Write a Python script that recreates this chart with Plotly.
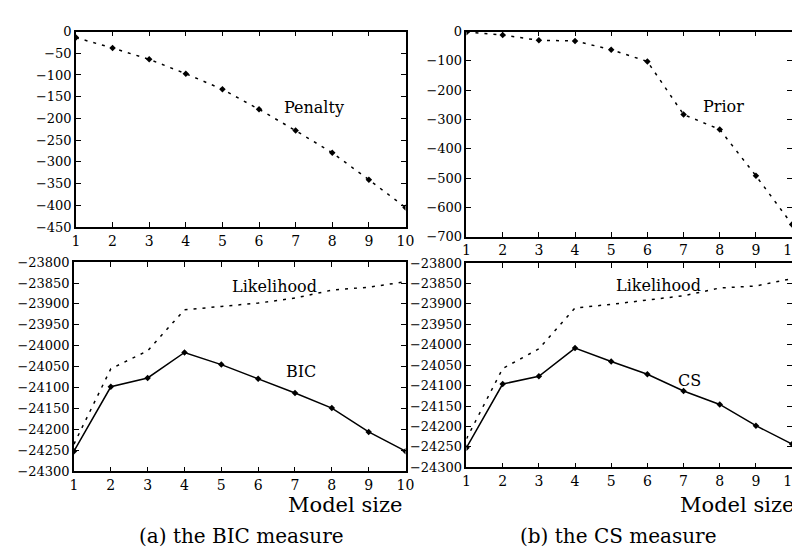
import plotly.graph_objects as go

# ---- data ----
model_size = [1, 2, 3, 4, 5, 6, 7, 8, 9, 10]
penalty = [-14, -38, -64, -97, -133, -179, -228, -279, -341, -405]
prior = [-2, -12, -30, -32, -62, -102, -283, -334, -492, -658]
likelihood_bic = [-24235, -24055, -24012, -23914, -23906, -23898, -23886, -23867, -23860, -23847]
bic = [-24252, -24098, -24077, -24016, -24045, -24079, -24113, -24149, -24206, -24252]
likelihood_cs = [-24230, -24058, -24010, -23910, -23901, -23890, -23880, -23861, -23856, -23838]
cs = [-24252, -24096, -24077, -24008, -24041, -24072, -24113, -24146, -24198, -24243]

top_left_ticks = [0, -50, -100, -150, -200, -250, -300, -350, -400, -450]
top_right_ticks = [0, -100, -200, -300, -400, -500, -600, -700]
bottom_ticks = [-23800, -23850, -23900, -23950, -24000, -24050, -24100, -24150, -24200, -24250, -24300]

FONT = "DejaVu Serif"
W, H = 800, 552

fig = go.Figure()

dotted = dict(color="black", width=1.5, dash="3px,6px")
solid = dict(color="black", width=1.5)
mk = dict(symbol="diamond", size=5, color="black")

fig.add_trace(go.Scatter(x=model_size, y=penalty, mode="lines+markers", line=dotted, marker=mk,
                         xaxis="x", yaxis="y", showlegend=False))
fig.add_trace(go.Scatter(x=model_size, y=prior, mode="lines+markers", line=dotted, marker=mk,
                         xaxis="x2", yaxis="y2", showlegend=False))
fig.add_trace(go.Scatter(x=model_size, y=likelihood_bic, mode="lines", line=dotted,
                         xaxis="x3", yaxis="y3", showlegend=False))
fig.add_trace(go.Scatter(x=model_size, y=bic, mode="lines+markers", line=solid, marker=mk,
                         xaxis="x3", yaxis="y3", showlegend=False))
fig.add_trace(go.Scatter(x=model_size, y=likelihood_cs, mode="lines", line=dotted,
                         xaxis="x4", yaxis="y4", showlegend=False))
fig.add_trace(go.Scatter(x=model_size, y=cs, mode="lines+markers", line=solid, marker=mk,
                         xaxis="x4", yaxis="y4", showlegend=False))


def px_dom_x(a, b):
    return [a / W, b / W]


def px_dom_y(top, bottom):
    return [1 - bottom / H, 1 - top / H]


def xax(dom, anchor):
    return dict(domain=dom, anchor=anchor, range=[1, 10], tickvals=model_size,
                showline=True, linecolor="black", linewidth=1.5, mirror="ticks",
                ticks="inside", ticklen=5, tickcolor="black", showgrid=False, zeroline=False,
                tickfont=dict(family=FONT, size=14, color="black"))


def yax(dom, anchor, rng, tv, size):
    return dict(domain=dom, anchor=anchor, range=rng, tickvals=tv, tickformat="d",
                showline=True, linecolor="black", linewidth=1.5, mirror="ticks",
                ticks="inside", ticklen=5, tickcolor="black", showgrid=False, zeroline=False,
                tickfont=dict(family=FONT, size=size, color="black"))


fig.update_layout(
    width=W, height=H,
    margin=dict(l=0, r=0, t=0, b=0),
    paper_bgcolor="white", plot_bgcolor="white",
    font=dict(family=FONT, color="black"),
    xaxis=xax(px_dom_x(65, 400), "y"),
    yaxis=yax(px_dom_y(17, 218), "x", [-450, 0], top_left_ticks, 13),
    xaxis2=xax(px_dom_x(462, 793), "y2"),
    yaxis2=yax(px_dom_y(17, 228), "x2", [-700, 0], top_right_ticks, 13),
    xaxis3=xax(px_dom_x(63, 400), "y3"),
    yaxis3=yax(px_dom_y(254, 469), "x3", [-24300, -23800], bottom_ticks, 13),
    xaxis4=xax(px_dom_x(462, 793), "y4"),
    yaxis4=yax(px_dom_y(255, 465), "x4", [-24300, -23800], bottom_ticks, 13),
)

lab = dict(family=FONT, size=16, color="black")
anns = [
    dict(text="Penalty", x=7.5, y=-175, xref="x", yref="y"),
    dict(text="Prior", x=8.1, y=-255, xref="x2", yref="y2"),
    dict(text="Likelihood", x=6.45, y=-23859, xref="x3", yref="y3"),
    dict(text="BIC", x=7.17, y=-24062, xref="x3", yref="y3"),
    dict(text="Likelihood", x=6.3, y=-23855, xref="x4", yref="y4"),
    dict(text="CS", x=7.17, y=-24088, xref="x4", yref="y4"),
]
for a in anns:
    fig.add_annotation(showarrow=False, font=lab, **a)

big = dict(family=FONT, size=21, color="black")
cap = dict(family=FONT, size=20, color="black")
fig.add_annotation(text="Model size", x=398 / W, y=1 - 504 / H, xref="paper", yref="paper",
                   xanchor="right", yanchor="middle", showarrow=False, font=big)
fig.add_annotation(text="Model size", x=797 / W, y=1 - 504 / H, xref="paper", yref="paper",
                   xanchor="right", yanchor="middle", showarrow=False, font=big)
fig.add_annotation(text="(a) the BIC measure", x=233 / W, y=1 - 536 / H, xref="paper", yref="paper",
                   xanchor="center", yanchor="middle", showarrow=False, font=cap)
fig.add_annotation(text="(b) the CS measure", x=617 / W, y=1 - 536 / H, xref="paper", yref="paper",
                   xanchor="center", yanchor="middle", showarrow=False, font=cap)

fig.write_html("out.html")
